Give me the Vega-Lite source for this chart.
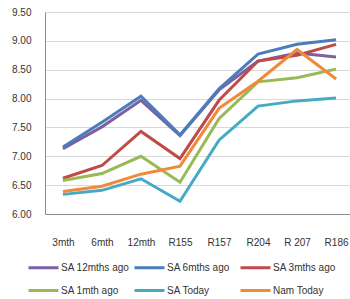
{
  "$schema": "https://vega.github.io/schema/vega-lite/v6.json",
  "width": 309,
  "height": 202,
  "autosize": "none",
  "padding": {"left": 45, "top": 12, "right": 0, "bottom": 85},
  "background": "white",
  "config": {
    "view": {"stroke": null},
    "font": "Liberation Sans",
    "axis": {"labelFont": "Liberation Sans", "labelFontSize": 10, "labelColor": "#333333"},
    "legend": {"labelFont": "Liberation Sans", "labelFontSize": 10, "labelColor": "#333333"}
  },
  "data": {
    "values": [
      {"category": "3mth", "series": "SA 12mths ago", "value": 7.13},
      {"category": "6mth", "series": "SA 12mths ago", "value": 7.51},
      {"category": "12mth", "series": "SA 12mths ago", "value": 7.97},
      {"category": "R155", "series": "SA 12mths ago", "value": 7.36},
      {"category": "R157", "series": "SA 12mths ago", "value": 8.15},
      {"category": "R204", "series": "SA 12mths ago", "value": 8.65},
      {"category": "R 207", "series": "SA 12mths ago", "value": 8.79},
      {"category": "R186", "series": "SA 12mths ago", "value": 8.72},
      {"category": "3mth", "series": "SA 6mths ago", "value": 7.16},
      {"category": "6mth", "series": "SA 6mths ago", "value": 7.59},
      {"category": "12mth", "series": "SA 6mths ago", "value": 8.04},
      {"category": "R155", "series": "SA 6mths ago", "value": 7.37},
      {"category": "R157", "series": "SA 6mths ago", "value": 8.17},
      {"category": "R204", "series": "SA 6mths ago", "value": 8.77},
      {"category": "R 207", "series": "SA 6mths ago", "value": 8.94},
      {"category": "R186", "series": "SA 6mths ago", "value": 9.02},
      {"category": "3mth", "series": "SA 3mths ago", "value": 6.62},
      {"category": "6mth", "series": "SA 3mths ago", "value": 6.84},
      {"category": "12mth", "series": "SA 3mths ago", "value": 7.43},
      {"category": "R155", "series": "SA 3mths ago", "value": 6.96},
      {"category": "R157", "series": "SA 3mths ago", "value": 7.97},
      {"category": "R204", "series": "SA 3mths ago", "value": 8.65},
      {"category": "R 207", "series": "SA 3mths ago", "value": 8.75},
      {"category": "R186", "series": "SA 3mths ago", "value": 8.94},
      {"category": "3mth", "series": "SA 1mth ago", "value": 6.58},
      {"category": "6mth", "series": "SA 1mth ago", "value": 6.70},
      {"category": "12mth", "series": "SA 1mth ago", "value": 7.00},
      {"category": "R155", "series": "SA 1mth ago", "value": 6.55},
      {"category": "R157", "series": "SA 1mth ago", "value": 7.65},
      {"category": "R204", "series": "SA 1mth ago", "value": 8.29},
      {"category": "R 207", "series": "SA 1mth ago", "value": 8.36},
      {"category": "R186", "series": "SA 1mth ago", "value": 8.51},
      {"category": "3mth", "series": "SA Today", "value": 6.34},
      {"category": "6mth", "series": "SA Today", "value": 6.41},
      {"category": "12mth", "series": "SA Today", "value": 6.61},
      {"category": "R155", "series": "SA Today", "value": 6.22},
      {"category": "R157", "series": "SA Today", "value": 7.28},
      {"category": "R204", "series": "SA Today", "value": 7.87},
      {"category": "R 207", "series": "SA Today", "value": 7.96},
      {"category": "R186", "series": "SA Today", "value": 8.01},
      {"category": "3mth", "series": "Nam Today", "value": 6.39},
      {"category": "6mth", "series": "Nam Today", "value": 6.48},
      {"category": "12mth", "series": "Nam Today", "value": 6.69},
      {"category": "R155", "series": "Nam Today", "value": 6.83},
      {"category": "R157", "series": "Nam Today", "value": 7.83},
      {"category": "R204", "series": "Nam Today", "value": 8.30},
      {"category": "R 207", "series": "Nam Today", "value": 8.85},
      {"category": "R186", "series": "Nam Today", "value": 8.34}
    ]
  },
  "mark": {"type": "line", "strokeWidth": 3},
  "encoding": {
    "x": {
      "field": "category",
      "type": "nominal",
      "sort": null,
      "scale": {"type": "point", "padding": 0.46},
      "axis": {
        "title": null,
        "labelAngle": 0,
        "ticks": false,
        "labelPadding": 23,
        "domainColor": "#8c8c8c",
        "grid": false
      }
    },
    "y": {
      "field": "value",
      "type": "quantitative",
      "scale": {"domain": [6, 9.5], "nice": false, "zero": false},
      "axis": {
        "title": null,
        "values": [6, 6.5, 7, 7.5, 8, 8.5, 9, 9.5],
        "format": ".2f",
        "ticks": false,
        "labelPadding": 14,
        "domainColor": "#8c8c8c",
        "gridColor": "#d9d9d9",
        "gridWidth": 1
      }
    },
    "color": {
      "field": "series",
      "type": "nominal",
      "scale": {
        "domain": ["SA 12mths ago", "SA 6mths ago", "SA 3mths ago", "SA 1mth ago", "SA Today", "Nam Today"],
        "range": ["#7E5FA1", "#4A7DBA", "#BE4B48", "#98B954", "#46AAC5", "#F08A3A"]
      },
      "legend": {
        "title": null,
        "orient": "none",
        "direction": "horizontal",
        "legendX": -18,
        "legendY": 239,
        "columns": 3,
        "symbolType": "stroke",
        "symbolSize": 900,
        "symbolStrokeWidth": 3,
        "labelOffset": 1,
        "columnPadding": -2,
        "rowPadding": -10,
        "gridAlign": "all"
      }
    }
  }
}
